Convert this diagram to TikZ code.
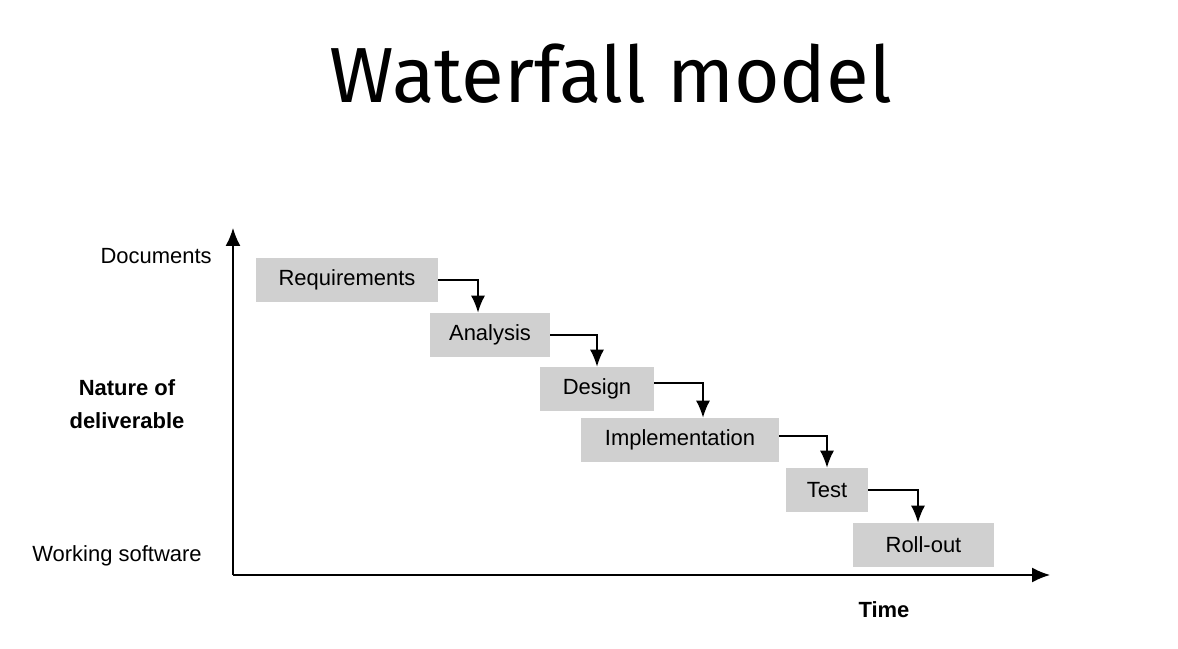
\documentclass[tikz,border=0pt]{standalone}
\usepackage{fontspec}
\setmainfont{Liberation Sans}
\newfontfamily\titlefont{Fira Sans}
\usepackage{tikz}
\usepackage{xcolor}
\usetikzlibrary{arrows.meta,positioning}

\definecolor{phasegray}{HTML}{D0D0D0}

\begin{document}
\begin{tikzpicture}[
  phase/.style={fill=phasegray, align=center, minimum height=0.88cm, inner sep=0pt, font=\fontsize{12.5}{15}\selectfont},
  axislabel/.style={align=center, inner sep=0pt, font=\fontsize{12.5}{19}\selectfont},
  flow/.style={-{Latex[length=3.4mm,width=2.8mm]}, line width=0.9pt},
  axis/.style={-{Latex[length=3.6mm,width=3mm]}, line width=0.9pt}
]
\useasboundingbox (0,0) rectangle (23.56,12.96);
\node[font=\titlefont\fontsize{44.5}{50}\selectfont] (title) at (12.22,11.49) {Waterfall model};
% axes
\coordinate (origin) at (4.66,1.46);
\coordinate (ytip) at (4.66,8.40);
\coordinate (xtip) at (21.00,1.46);
\draw[axis] (origin) -- (ytip);
\draw[axis] (origin) -- (xtip);
\node[axislabel, anchor=east] (docs) at (4.24,7.84) {Documents};
\node[axislabel, anchor=east] (working) at (4.04,1.84) {Working software};
\node[axislabel, font=\bfseries\fontsize{12.5}{19}\selectfont] (nature) at (2.54,4.88) {Nature of\\deliverable};
\node[axislabel, font=\bfseries\fontsize{12.5}{19}\selectfont] (time) at (17.68,0.76) {Time};
% phases
\node[phase, minimum width=3.64cm] (req) at (6.94,7.36) {Requirements};
\node[phase, minimum width=2.40cm] (ana) at (9.80,6.26) {Analysis};
\node[phase, minimum width=2.28cm] (des) at (11.94,5.18) {Design};
\node[phase, minimum width=3.96cm] (imp) at (13.60,4.16) {Implementation};
\node[phase, minimum width=1.64cm] (test) at (16.54,3.16) {Test};
\node[phase, minimum width=2.82cm] (roll) at (18.47,2.06) {Roll-out};
\draw[flow] (req.east) -| ([xshift=-0.24cm]ana.north);
\draw[flow] (ana.east) -| (des.north);
\draw[flow] ([yshift=0.12cm]des.east) -| ([xshift=0.46cm]imp.north);
\draw[flow] ([yshift=0.08cm]imp.east) -| (test.north);
\draw[flow] (test.east) -| ([xshift=-0.11cm]roll.north);
\end{tikzpicture}
\end{document}
